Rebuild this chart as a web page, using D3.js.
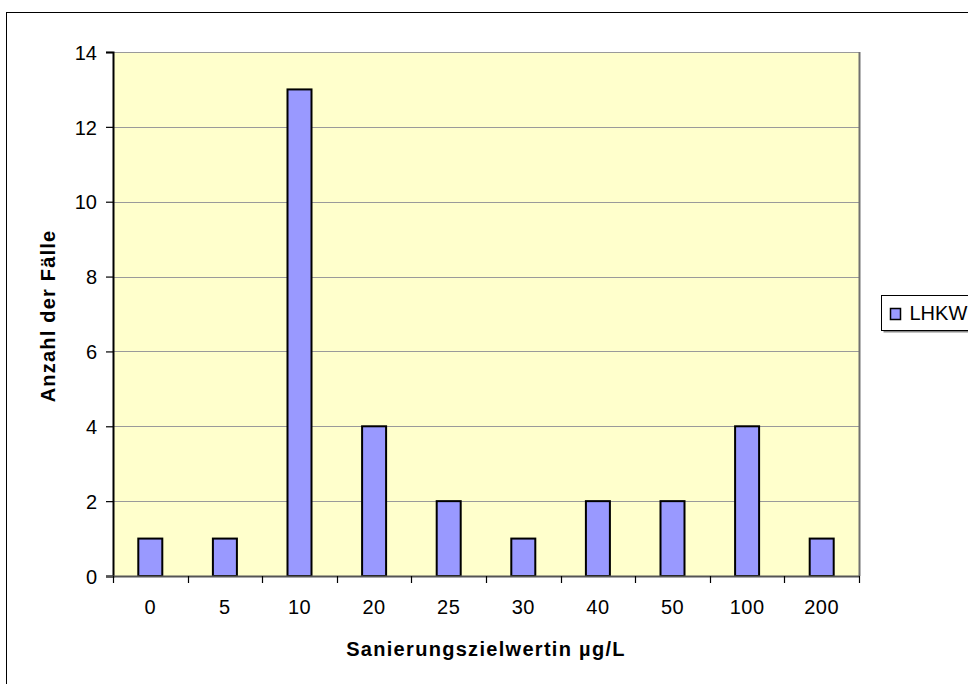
<!DOCTYPE html>
<html>
<head>
<meta charset="utf-8">
<script src="https://cdn.jsdelivr.net/npm/d3@7"></script>
<style>
  html, body { margin: 0; padding: 0; background: #fff; }
  svg { display: block; font-family: "Liberation Sans", Arial, sans-serif; }
</style>
</head>
<body>
<svg id="chart" width="968" height="684"></svg>
<script>
// Sanierungszielwerte (µg/L) und Anzahl der Fälle je Zielwert
const categories = ["0", "5", "10", "20", "25", "30", "40", "50", "100", "200"];
const lhkw = [1, 1, 13, 4, 2, 1, 2, 2, 4, 1];
const yTicks = [0, 2, 4, 6, 8, 10, 12, 14];
const seriesName = "LHKW";
const xTitle = "Sanierungszielwertin µg/L";
const yTitle = "Anzahl der Fälle";

const svg = d3.select("#chart");

// outer chart frame (extends past the right and bottom edge)
svg.append("rect")
  .attr("x", 6.5).attr("y", 12.5)
  .attr("width", 1000).attr("height", 700)
  .attr("fill", "#fff").attr("stroke", "#000").attr("stroke-width", 1);

const plot = { left: 113, top: 52, right: 859, bottom: 576 };

const x = d3.scaleBand()
  .domain(categories)
  .range([plot.left, plot.right])
  .paddingInner(0).paddingOuter(0);

const y = d3.scaleLinear()
  .domain([0, 14])
  .range([plot.bottom, plot.top]);

// plot background
svg.append("rect")
  .attr("x", plot.left).attr("y", plot.top)
  .attr("width", plot.right - plot.left)
  .attr("height", plot.bottom - plot.top)
  .attr("fill", "#FFFFCC");

// horizontal gridlines
svg.append("g")
  .selectAll("line")
  .data(yTicks.filter(d => d > 0))
  .join("line")
  .attr("x1", plot.left).attr("x2", plot.right)
  .attr("y1", d => Math.round(y(d)) + 0.5)
  .attr("y2", d => Math.round(y(d)) + 0.5)
  .attr("stroke", "#9a9a9a").attr("stroke-width", 1.2);

// right edge of plot area
svg.append("line")
  .attr("x1", plot.right + 0.5).attr("x2", plot.right + 0.5)
  .attr("y1", plot.top).attr("y2", plot.bottom)
  .attr("stroke", "#707070").attr("stroke-width", 2);

// bars
const barW = 24;
svg.append("g")
  .selectAll("rect")
  .data(lhkw)
  .join("rect")
  .attr("x", (d, i) => x(categories[i]) + x.bandwidth() / 2 - barW / 2)
  .attr("y", d => y(d))
  .attr("width", barW)
  .attr("height", d => y(0) - y(d))
  .attr("fill", "#9999FF")
  .attr("stroke", "#000")
  .attr("stroke-width", 2);

// y axis
const yAxis = d3.axisLeft(y).tickValues(yTicks).tickSize(7).tickPadding(9)
  .tickFormat(d3.format("d"));
const gy = svg.append("g")
  .attr("transform", `translate(${plot.left},0)`)
  .call(yAxis);
gy.select(".domain").attr("stroke", "#000").attr("stroke-width", 2);
gy.selectAll(".tick line").attr("stroke", "#000").attr("stroke-width", 1.2);
gy.selectAll(".tick text").attr("font-size", 20).attr("fill", "#000")
  .attr("dy", "0.36em")
  .attr("font-family", "Liberation Sans, Arial, sans-serif");

// x axis with ticks on category boundaries
const gx = svg.append("g")
  .attr("transform", `translate(0,${plot.bottom})`);
gx.append("line")
  .attr("x1", plot.left - 7).attr("x2", plot.right + 1)
  .attr("y1", 0.5).attr("y2", 0.5)
  .attr("stroke", "#555").attr("stroke-width", 2);
const boundaries = categories.map(c => x(c)).concat([plot.right]);
gx.selectAll("line.tick")
  .data(boundaries)
  .join("line")
  .attr("class", "tick")
  .attr("x1", d => Math.round(d) + 0.5).attr("x2", d => Math.round(d) + 0.5)
  .attr("y1", 0).attr("y2", 7)
  .attr("stroke", "#000").attr("stroke-width", 1.2);
gx.selectAll("text")
  .data(categories)
  .join("text")
  .attr("x", d => x(d) + x.bandwidth() / 2)
  .attr("y", 38)
  .attr("text-anchor", "middle")
  .attr("font-size", 20)
  .attr("letter-spacing", 0.5)
  .text(d => d);

// axis titles
svg.append("text")
  .attr("x", 486)
  .attr("y", 656)
  .attr("text-anchor", "middle")
  .attr("font-size", 20)
  .attr("font-weight", "bold")
  .attr("letter-spacing", 1.3)
  .text(xTitle);

svg.append("text")
  .attr("transform", `translate(55,${316}) rotate(-90)`)
  .attr("text-anchor", "middle")
  .attr("font-size", 20)
  .attr("font-weight", "bold")
  .attr("letter-spacing", 1.2)
  .text(yTitle);

// legend
const lg = svg.append("g").attr("transform", "translate(881.5,295.5)");
lg.append("rect")
  .attr("x", 2).attr("y", 2)
  .attr("width", 120).attr("height", 35)
  .attr("fill", "#888");
lg.append("rect")
  .attr("width", 120).attr("height", 35)
  .attr("fill", "#fff").attr("stroke", "#000");
lg.append("rect")
  .attr("x", 9).attr("y", 13)
  .attr("width", 10).attr("height", 11)
  .attr("fill", "#9999FF").attr("stroke", "#000").attr("stroke-width", 1.5);
lg.append("text")
  .attr("x", 28).attr("y", 24.5)
  .attr("font-size", 20)
  .text(seriesName);
</script>
</body>
</html>
